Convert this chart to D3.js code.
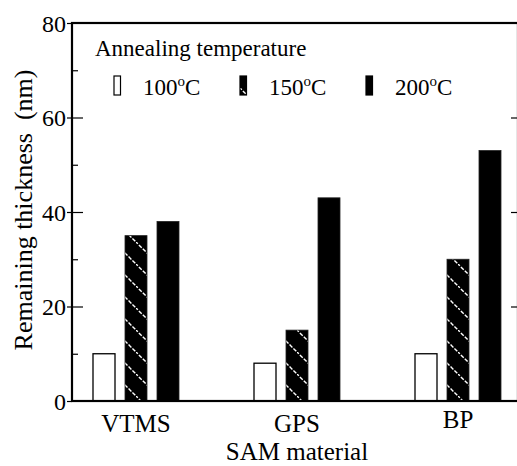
<!DOCTYPE html>
<html>
<head>
<meta charset="utf-8">
<script src="https://cdn.jsdelivr.net/npm/d3@7"></script>
<style>
  body { margin: 0; background: #fff; }
</style>
</head>
<body>
<script>
const materials = ["VTMS", "GPS", "BP"];
const temps = ["100", "150", "200"];
const thick100 = [10, 8, 10];
const thick150 = [35, 15, 30];
const thick200 = [38, 43, 53];
const majorTicks = [0, 20, 40, 60, 80];
const minorTicks = [10, 30, 50, 70];

const W = 517, H = 466;
const padL = 72, padR = 518, padT = 23, padB = 401;
const serif = "'Liberation Serif'";

const svg = d3.select("body").append("svg")
  .attr("width", W).attr("height", H);

const defs = svg.append("defs");
const pat = defs.append("pattern")
  .attr("id", "hatch")
  .attr("patternUnits", "userSpaceOnUse")
  .attr("width", 22).attr("height", 22);
pat.append("rect").attr("width", 22).attr("height", 22).attr("fill", "#000");
pat.append("line")
  .attr("x1", -1).attr("y1", -1).attr("x2", 23).attr("y2", 23)
  .attr("stroke", "#fff").attr("stroke-width", 1.4)
  .attr("stroke-dasharray", "4 1.5");

const fills = { "100": "#fff", "150": "url(#hatch)", "200": "#000" };

const y = d3.scaleLinear().domain([0, 80]).range([padB, padT]);
const x0 = d3.scaleBand().domain(materials).range([55.5, 538.5]);
const x1 = d3.scaleBand().domain(temps).range([-48, 48])
  .paddingInner(0.3125).paddingOuter(0.15625);

const rows = materials.map((m, i) => ({
  name: m,
  vals: [
    { t: "100", v: thick100[i] },
    { t: "150", v: thick150[i] },
    { t: "200", v: thick200[i] }
  ]
}));

// bars
const g = svg.append("g");
g.selectAll("g.grp").data(rows).enter().append("g")
  .attr("transform", d => `translate(${x0(d.name) + x0.bandwidth() / 2},0)`)
  .selectAll("rect").data(d => d.vals).enter().append("rect")
  .attr("x", d => x1(d.t))
  .attr("width", x1.bandwidth())
  .attr("y", d => y(d.v))
  .attr("height", d => y(0) - y(d.v))
  .attr("fill", d => fills[d.t])
  .attr("stroke", d => d.t === "100" ? "#000" : "#222")
  .attr("stroke-width", d => d.t === "100" ? 1.3 : 0.8);

// frame
svg.append("rect")
  .attr("x", padL).attr("y", padT)
  .attr("width", padR - padL).attr("height", padB - padT)
  .attr("fill", "none").attr("stroke", "#000").attr("stroke-width", 2.2);

// left axis labels + outer ticks
const axL = svg.append("g").attr("transform", `translate(${padL},0)`)
  .call(d3.axisLeft(y).tickValues(majorTicks).tickSize(5).tickPadding(1).tickFormat(d3.format("d")));
axL.select(".domain").remove();
axL.attr("font-family", null).attr("font-size", null);
axL.selectAll("text").style("font-size", "24px").style("font-family", serif)
  .attr("dy", "0.34em");

// inner ticks left
const inMaj = svg.append("g").attr("transform", `translate(${padL},0)`)
  .call(d3.axisRight(y).tickValues(majorTicks.slice(1, -1)).tickSize(11).tickFormat(""));
inMaj.select(".domain").remove();
const inMin = svg.append("g").attr("transform", `translate(${padL},0)`)
  .call(d3.axisRight(y).tickValues(minorTicks).tickSize(6).tickFormat(""));
inMin.select(".domain").remove();

// right ticks
const axR = svg.append("g").attr("transform", `translate(${W},0)`)
  .call(d3.axisLeft(y).tickValues(majorTicks.slice(1, -1)).tickSize(6).tickFormat(""));
axR.select(".domain").remove();

svg.selectAll(".tick line").attr("stroke", "#000").attr("stroke-width", 1.2);

// category labels
svg.selectAll("text.cat").data(materials).enter().append("text")
  .attr("class", "cat")
  .attr("x", d => x0(d) + x0.bandwidth() / 2)
  .attr("y", (d, i) => i === 2 ? 428 : 432)
  .attr("text-anchor", "middle")
  .style("font-family", serif)
  .style("font-size", "25px")
  .text(d => d);

svg.append("text")
  .attr("x", 297).attr("y", 460)
  .attr("text-anchor", "middle")
  .style("font-family", serif)
  .style("font-size", "25px")
  .text("SAM material");

svg.append("text")
  .attr("transform", "translate(32,210) rotate(-90)")
  .attr("text-anchor", "middle")
  .style("font-family", serif)
  .style("font-size", "26px")
  .text("Remaining thickness\u00a0 (nm)");

// legend
svg.append("text")
  .attr("x", 95).attr("y", 56)
  .style("font-family", serif)
  .style("font-size", "23px")
  .text("Annealing temperature");

const leg = svg.selectAll("g.leg").data(temps).enter().append("g")
  .attr("transform", (d, i) => `translate(${114 + i * 126},0)`);
leg.append("rect")
  .attr("x", 0).attr("y", 76).attr("width", 6.5).attr("height", 19)
  .attr("fill", d => fills[d])
  .attr("stroke", "#000").attr("stroke-width", 1.2);
const lt = leg.append("text")
  .attr("x", 29).attr("y", 95)
  .style("font-family", serif)
  .style("font-size", "23px");
lt.append("tspan").text(d => d);
lt.append("tspan").attr("dy", -9).style("font-size", "15px").text("o");
lt.append("tspan").attr("dy", 9).text("C");
</script>
</body>
</html>
